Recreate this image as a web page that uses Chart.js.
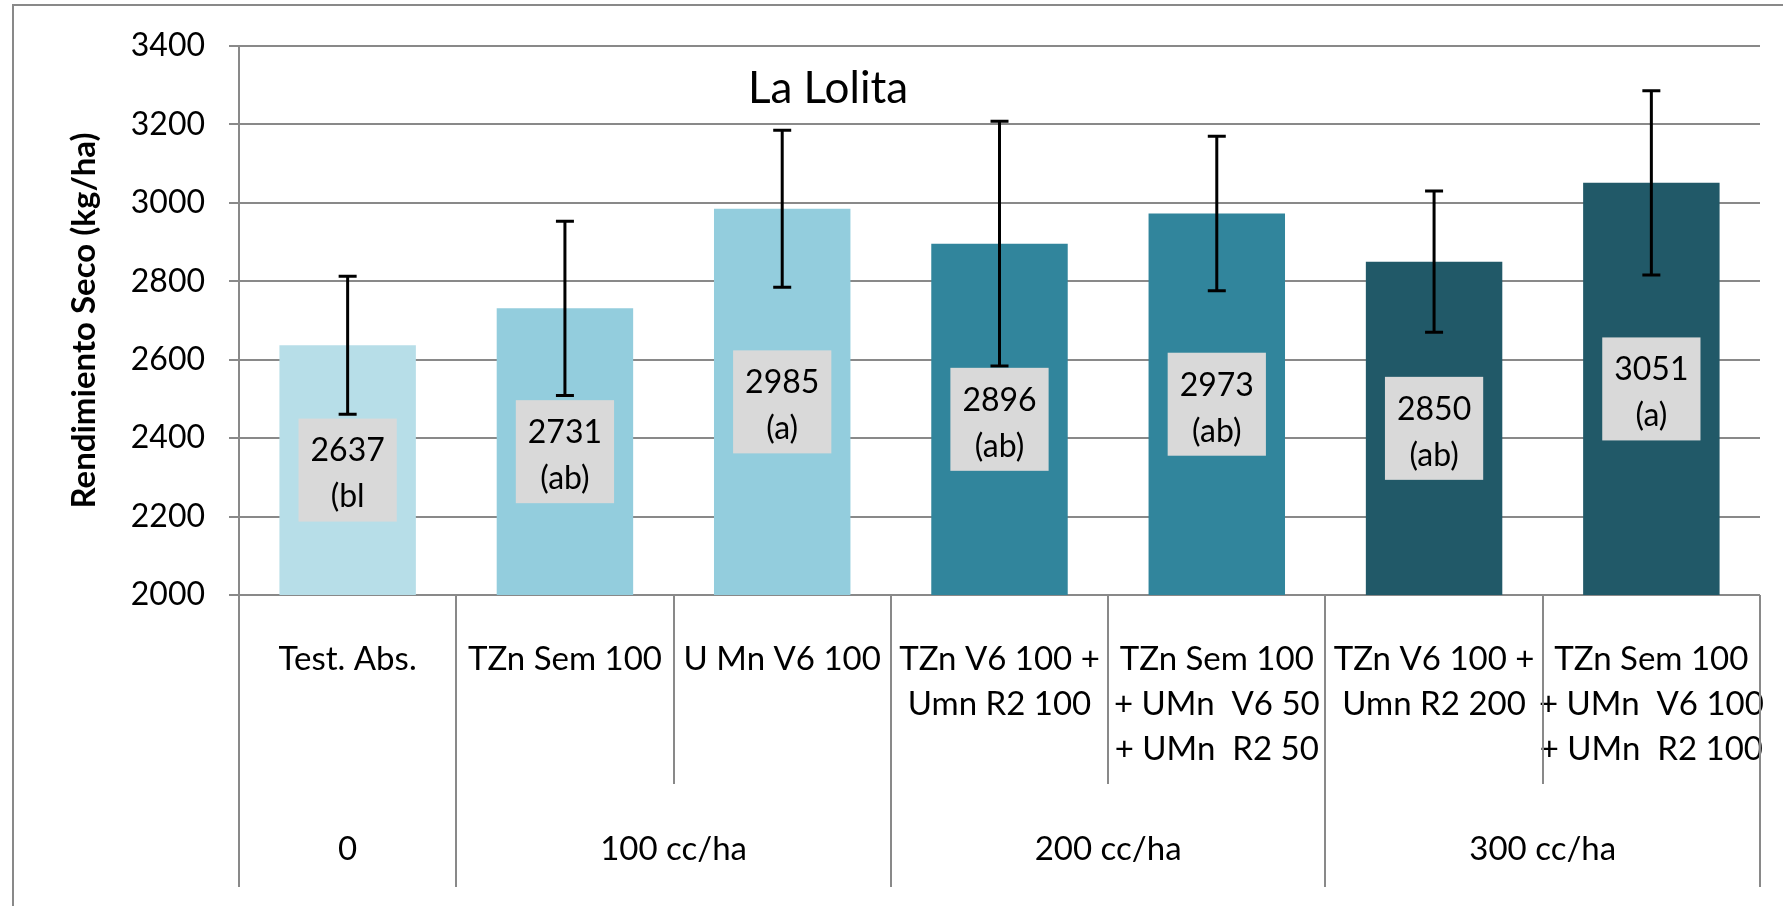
<!DOCTYPE html>
<html>
<head>
<meta charset="utf-8">
<script src="https://cdn.jsdelivr.net/npm/chart.js@4.4.0/dist/chart.umd.min.js"></script>
<style>
  html, body { margin: 0; padding: 0; background: #fff; }
  canvas { display: block; }
</style>
</head>
<body>
<canvas id="chart" width="1783" height="906"></canvas>
<script>
// -----------------------------------------------------------------
// data
const categories = [
  ['Test. Abs.'],
  ['TZn Sem 100'],
  ['U Mn V6 100'],
  ['TZn V6 100 +', 'Umn R2 100'],
  ['TZn Sem 100', '+ UMn  V6 50', '+ UMn  R2 50'],
  ['TZn V6 100 +', 'Umn R2 200'],
  ['TZn Sem 100', '+ UMn  V6 100', '+ UMn  R2 100'],
];
const groups = ['0', '100 cc/ha', '200 cc/ha', '300 cc/ha'];
const groupSpans = [1, 2, 2, 2];
const yields = [2637, 2731, 2985, 2896, 2973, 2850, 3051];
const letters = ['(bl', '(ab)', '(a)', '(ab)', '(ab)', '(ab)', '(a)'];
const errors = [176, 222, 200, 312, 197, 180, 235];
const yMin = 2000;
const yMax = 3400;
const yStep = 200;

const barColors = ['#B7DEE8', '#93CDDD', '#93CDDD', '#31859C', '#31859C', '#215968', '#215968'];
const GRID = '#898989';
const FONT = 'Lato';

// -----------------------------------------------------------------
// extra drawing: error bars, value boxes, title, lower table lines
const extras = {
  id: 'extras',
  afterDatasetsDraw(chart) {
    const { ctx, scales: { y } } = chart;
    const bars = chart.getDatasetMeta(0).data;

    // error bars
    ctx.save();
    ctx.strokeStyle = '#000';
    ctx.lineWidth = 3;
    bars.forEach((bar, i) => {
      const top = y.getPixelForValue(yields[i] + errors[i]);
      const bot = y.getPixelForValue(yields[i] - errors[i]);
      ctx.beginPath();
      ctx.moveTo(bar.x, top); ctx.lineTo(bar.x, bot);
      ctx.moveTo(bar.x - 9, top); ctx.lineTo(bar.x + 9, top);
      ctx.moveTo(bar.x - 9, bot); ctx.lineTo(bar.x + 9, bot);
      ctx.stroke();
    });
    ctx.restore();

    // value boxes, centred in the visible part of each bar
    ctx.save();
    ctx.font = `32px ${FONT}`;
    ctx.textAlign = 'center';
    ctx.textBaseline = 'middle';
    bars.forEach((bar, i) => {
      const mid = y.getPixelForValue((yMin + yields[i]) / 2);
      const l1 = String(yields[i]);
      const l2 = letters[i];
      const w = Math.max(ctx.measureText(l1).width, ctx.measureText(l2).width) + 24;
      const h = 103;
      ctx.fillStyle = '#D9D9D9';
      ctx.fillRect(bar.x - w / 2, mid - h / 2, w, h);
      ctx.fillStyle = '#000';
      ctx.fillText(l1, bar.x, mid - 19);
      ctx.fillText(l2, bar.x, mid + 27);
    });
    ctx.restore();
  },
  afterDraw(chart) {
    const { ctx, chartArea, scales: { x } } = chart;
    const n = categories.length;
    const edges = [];
    for (let i = 0; i <= n; i++) {
      if (i === 0) edges.push(chartArea.left);
      else if (i === n) edges.push(chartArea.right);
      else edges.push((x.getPixelForValue(i - 1) + x.getPixelForValue(i)) / 2);
    }
    const rowEnd = 784;
    const tableEnd = 887;

    // group boundaries
    const groupEdges = [0];
    groupSpans.forEach((s) => groupEdges.push(groupEdges[groupEdges.length - 1] + s));

    ctx.save();
    ctx.strokeStyle = GRID;
    ctx.lineWidth = 2;
    edges.forEach((ex, i) => {
      const isGroup = groupEdges.includes(i);
      ctx.beginPath();
      ctx.moveTo(Math.round(ex), chartArea.bottom);
      ctx.lineTo(Math.round(ex), isGroup ? tableEnd : rowEnd);
      ctx.stroke();
    });

    // outer frame
    ctx.beginPath();
    ctx.moveTo(13, 906);
    ctx.lineTo(13, 5);
    ctx.lineTo(1783, 5);
    ctx.stroke();

    // group labels
    ctx.fillStyle = '#000';
    ctx.font = `33px ${FONT}`;
    ctx.textAlign = 'center';
    ctx.textBaseline = 'middle';
    groups.forEach((g, gi) => {
      const cx = (edges[groupEdges[gi]] + edges[groupEdges[gi + 1]]) / 2;
      ctx.fillText(g, cx, 849);
    });

    // title
    ctx.font = `44px ${FONT}`;
    ctx.fillText('La Lolita', 828, 89);
    ctx.restore();
  },
};

// -----------------------------------------------------------------
// chart
function renderChart() {
  const ctx = document.getElementById('chart').getContext('2d');
  new Chart(ctx, {
    type: 'bar',
    data: {
      labels: categories,
      datasets: [{
        data: yields,
        backgroundColor: barColors,
        borderWidth: 0,
        categoryPercentage: 1,
        barPercentage: 0.628,
      }],
    },
    options: {
      responsive: false,
      animation: false,
      devicePixelRatio: 1,
      layout: { padding: { left: 13, top: 46, right: 23, bottom: 0 } },
      plugins: {
        legend: { display: false },
        tooltip: { enabled: false },
      },
      scales: {
        x: {
          grid: { display: false },
          border: { display: false },
          ticks: {
            color: '#000',
            font: { family: FONT, size: 33, lineHeight: 1.364 },
            padding: 34,
            maxRotation: 0,
            autoSkip: false,
          },
          afterFit(s) {
            s.height = 311;
            s.paddingLeft = 0;
            s.paddingRight = 0;
          },
        },
        y: {
          min: yMin,
          max: yMax,
          ticks: {
            stepSize: yStep,
            color: '#000',
            font: { family: FONT, size: 32 },
            padding: 24,
            callback: (v) => String(v),
          },
          grid: { color: GRID, lineWidth: 2, tickLength: 10 },
          border: { color: GRID, width: 2 },
          title: {
            display: true,
            text: 'Rendimiento Seco (kg/ha)',
            color: '#000',
            font: { family: FONT, size: 33, weight: 'bold' },
            padding: { top: 52, bottom: 0 },
          },
          afterFit(s) { s.width = 226; },
        },
      },
    },
    plugins: [extras],
  });
}

document.fonts.load(`32px ${FONT}`).then(renderChart, renderChart);
</script>
</body>
</html>
